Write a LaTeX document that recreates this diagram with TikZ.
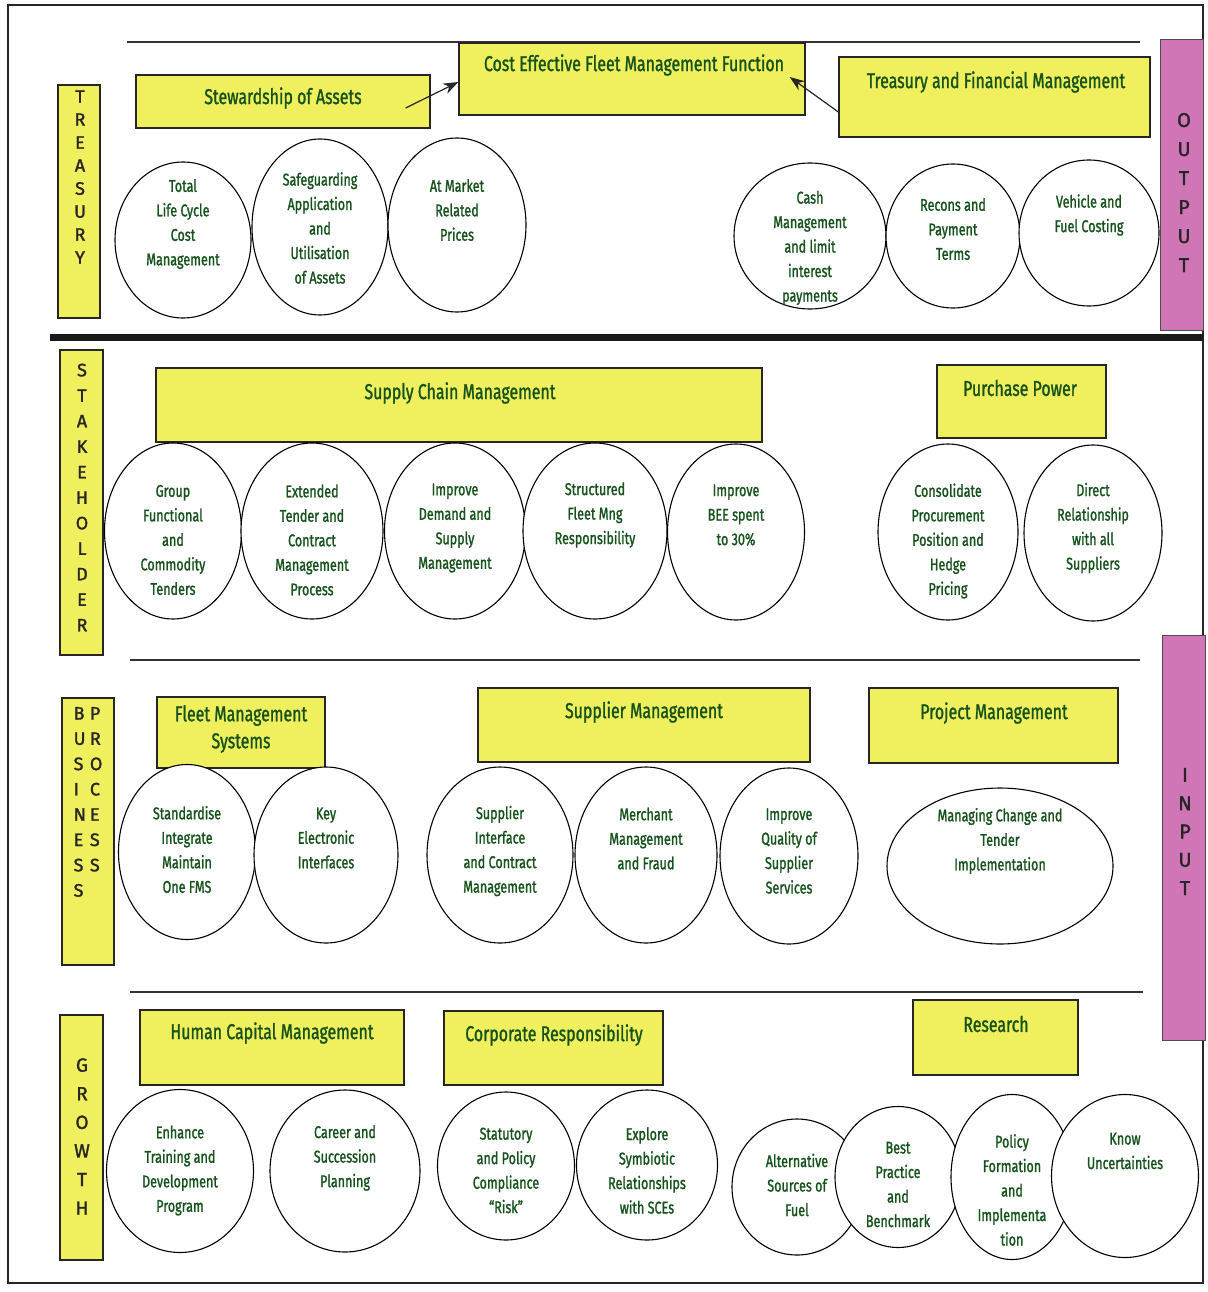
\documentclass[tikz,border=0pt]{standalone}
\usepackage{fontspec}
\setmainfont{Fira Sans}[FakeStretch=0.74, FakeBold=1.2]
\newfontfamily\sidefont{Fira Sans}[FakeBold=1.5]
\usetikzlibrary{shapes.geometric,arrows.meta,calc}
\definecolor{boxyellow}{RGB}{240,240,95}
\definecolor{barpink}{RGB}{208,118,182}
\definecolor{txtgreen}{RGB}{22,82,28}
\tikzset{
  ybox/.style={draw=black!85, line width=1.3pt, fill=boxyellow, inner sep=0pt},
  pbar/.style={draw=black!70, line width=1pt, fill=barpink, inner sep=0pt},
  ttl/.style={text=txtgreen, align=center, inner sep=0pt, font=\fontsize{21.5}{27}\selectfont},
  oval/.style={ellipse, draw=black, line width=1.1pt, fill=white, inner sep=0pt},
  otxt/.style={text=txtgreen, align=center, inner sep=0pt, font=\fontsize{17}{24.5}\selectfont},
  side/.style={text=black!85, align=center, inner sep=0pt, font=\sidefont\fontsize{18}{23}\selectfont},
  arr/.style={-{Stealth[length=15pt,width=11pt]}, line width=1.2pt, draw=black!85, fill=black!85},
  rule/.style={line width=1.1pt, draw=black!80}
}
\begin{document}
\begin{tikzpicture}[x=1pt,y=-1pt]
\useasboundingbox (0,0) rectangle (1207,1292);
% frame and dividing rules
\draw[line width=1.5pt, black!85] (8,5) rectangle (1203,1283);
\draw[rule] (127,42) -- (1140,42);
\draw[line width=7pt, black!90] (50,337) -- (1203,337);
\draw[rule] (130,660) -- (1140,660);
\draw[rule] (130,992) -- (1143,992);

% side bars
\node[ybox, minimum width=42, minimum height=233] (barT) at (79,201.5) {};
\node[side] (barTt) at (80,177) {T\\R\\E\\A\\S\\U\\R\\Y};
\node[ybox, minimum width=43, minimum height=305] (barS) at (81.5,502.5) {};
\node[side, font=\sidefont\fontsize{18}{25.5}\selectfont] (barSt) at (82,497.5) {S\\T\\A\\K\\E\\H\\O\\L\\D\\E\\R};
\node[ybox, minimum width=52, minimum height=267] (barB) at (88,831.5) {};
\node[side] (barBt) at (88,803) {\renewcommand{\arraystretch}{1.1}\begin{tabular}{@{}l@{\hspace{4pt}}l@{}}B&P\\U&R\\S&O\\I&C\\N&E\\E&S\\S&S\\S&\end{tabular}};
\node[ybox, minimum width=43, minimum height=245] (barG) at (81.5,1137.5) {};
\node[side, font=\sidefont\fontsize{19}{28.6}\selectfont] (barGt) at (82,1136.5) {G\\R\\O\\W\\T\\H};
\node[pbar, minimum width=43, minimum height=290] (barO) at (1181.5,185) {};
\node[side, font=\sidefont\fontsize{20}{29}\selectfont] (barOt) at (1184,192.5) {O\\U\\T\\P\\U\\T};
\node[pbar, minimum width=43, minimum height=405] (barI) at (1183.5,837.5) {};
\node[side, font=\sidefont\fontsize{20}{28.3}\selectfont] (barIt) at (1185,831.5) {I\\N\\P\\U\\T};

% treasury perspective
\node[ybox, minimum width=294, minimum height=53] (stew) at (283,101.5) {};
\node[ttl] (stewt) at (283,98) {Stewardship of Assets};
\node[ybox, minimum width=346, minimum height=72] (cost) at (632,79) {};
\node[ttl] (costt) at (634,65) {Cost Effective Fleet Management Function};
\node[ybox, minimum width=311, minimum height=80] (treas) at (994.5,97) {};
\node[ttl] (treast) at (996,82) {Treasury and Financial Management};
\draw[arr] ($(stew.east)+(-25,6.5)$) -- ($(cost.west)+(0,3)$);
\draw[arr] ($(treas.west)+(0,15)$) -- ($(cost.east)+(-16,-2)$);

\node[oval, minimum width=136, minimum height=156] (t1) at (183,240) {};
\node[otxt] (t1t) at (183,224) {Total\\Life Cycle\\Cost\\Management};
\node[oval, minimum width=136, minimum height=176] (t2) at (320,227) {};
\node[otxt] (t2t) at (320,228) {Safeguarding\\Application\\and\\Utilisation\\of Assets};
\node[oval, minimum width=138, minimum height=174] (t3) at (457,225) {};
\node[otxt] (t3t) at (457,210) {At Market\\Related\\Prices};
\node[oval, minimum width=152, minimum height=146] (t4) at (810,236) {};
\node[otxt] (t4t) at (810,248) {Cash\\Management\\and limit\\interest\\payments};
\node[oval, minimum width=134, minimum height=144] (t5) at (953,236) {};
\node[otxt] (t5t) at (953,229) {Recons and\\Payment\\Terms};
\node[oval, minimum width=140, minimum height=146] (t6) at (1089,233) {};
\node[otxt] (t6t) at (1089,215) {Vehicle and\\Fuel Costing};

% stakeholder perspective
\node[ybox, minimum width=606, minimum height=74] (scm) at (459,405) {};
\node[ttl] (scmt) at (460,393) {Supply Chain Management};
\node[ybox, minimum width=169, minimum height=73] (pp) at (1021.5,401.5) {};
\node[ttl] (ppt) at (1020,388) {Purchase Power};

\node[oval, minimum width=137, minimum height=176] (s1) at (173,531) {};
\node[otxt] (s1t) at (173,540) {Group\\Functional\\and\\Commodity\\Tenders};
\node[oval, minimum width=142, minimum height=176] (s2) at (312,531) {};
\node[otxt] (s2t) at (312,540) {Extended\\Tender and\\Contract\\Management\\Process};
\node[oval, minimum width=141, minimum height=176] (s3) at (455,531) {};
\node[otxt] (s3t) at (455,528) {Improve\\Demand and\\Supply\\Management};
\node[oval, minimum width=144, minimum height=176] (s4) at (595,531) {};
\node[otxt] (s4t) at (595,515) {Structured\\Fleet Mng\\Responsibility};
\node[oval, minimum width=137, minimum height=176] (s5) at (736,532) {};
\node[otxt] (s5t) at (736,515) {Improve\\BEE spent\\to 30\%};
\node[oval, minimum width=140, minimum height=176] (s6) at (948,532) {};
\node[otxt] (s6t) at (948,541) {Consolidate\\Procurement\\Position and\\Hedge\\Pricing};
\node[oval, minimum width=138, minimum height=176] (s7) at (1093,533) {};
\node[otxt] (s7t) at (1093,528) {Direct\\Relationship\\with all\\Suppliers};

% business process perspective
\node[ybox, minimum width=168, minimum height=71] (fms) at (241,732.5) {};
\node[ttl] (fmst) at (241,729) {Fleet Management\\Systems};
\node[ybox, minimum width=332, minimum height=74] (sm) at (644,725) {};
\node[ttl] (smt) at (644,712) {Supplier Management};
\node[ybox, minimum width=249, minimum height=75] (pm) at (993.5,725.5) {};
\node[ttl] (pmt) at (994,713) {Project Management};

\node[oval, minimum width=137, minimum height=175] (b1) at (187,852) {};
\node[otxt] (b1t) at (187,849.5) {Standardise\\Integrate\\Maintain\\One FMS};
\node[oval, minimum width=144, minimum height=176] (b2) at (326,855) {};
\node[otxt] (b2t) at (326,838) {Key\\Electronic\\Interfaces};
\node[oval, minimum width=146, minimum height=176] (b3) at (500,855) {};
\node[otxt] (b3t) at (500,851) {Supplier\\Interface\\and Contract\\Management};
\node[oval, minimum width=142, minimum height=176] (b4) at (646,855) {};
\node[otxt] (b4t) at (646,838.5) {Merchant\\Management\\and Fraud};
\node[oval, minimum width=138, minimum height=176] (b5) at (789,856) {};
\node[otxt] (b5t) at (789,851) {Improve\\Quality of\\Supplier\\Services};
\node[oval, minimum width=226, minimum height=156] (b6) at (1000,866) {};
\node[otxt] (b6t) at (1000,841) {Managing Change and\\Tender\\Implementation};

% learning and growth perspective
\node[ybox, minimum width=264, minimum height=75] (hcm) at (272,1047.5) {};
\node[ttl] (hcmt) at (272,1033) {Human Capital Management};
\node[ybox, minimum width=219, minimum height=74] (cr) at (553.5,1048) {};
\node[ttl] (crt) at (554,1035) {Corporate Responsibility};
\node[ybox, minimum width=165, minimum height=75] (res) at (995.5,1037.5) {};
\node[ttl] (rest) at (996,1024) {Research};

\node[oval, minimum width=147, minimum height=163] (g1) at (180,1171) {};
\node[otxt] (g1t) at (180,1170.5) {Enhance\\Training and\\Development\\Program};
\node[oval, minimum width=150, minimum height=162] (g2) at (345,1171) {};
\node[otxt] (g2t) at (345,1158) {Career and\\Succession\\Planning};
\node[oval, minimum width=137, minimum height=148] (g3) at (506,1166) {};
\node[otxt] (g3t) at (506,1170.5) {Statutory\\and Policy\\Compliance\\``Risk''};
\node[oval, minimum width=141, minimum height=150] (g4) at (647,1165) {};
\node[otxt] (g4t) at (647,1170.5) {Explore\\Symbiotic\\Relationships\\with SCEs};
\node[oval, minimum width=130, minimum height=136] (g5) at (797,1187) {};
\node[otxt] (g5t) at (797,1185) {Alternative\\Sources of\\Fuel};
\node[oval, minimum width=126, minimum height=141] (g6) at (898,1177) {};
\node[otxt] (g6t) at (898,1184.5) {Best\\Practice\\and\\Benchmark};
\node[oval, minimum width=122, minimum height=165] (g7) at (1012,1177) {};
\node[otxt] (g7t) at (1012,1190) {Policy\\Formation\\and\\Implementa\\tion};
\node[oval, minimum width=147, minimum height=163] (g8) at (1125,1176) {};
\node[otxt] (g8t) at (1125,1151) {Know\\Uncertainties};
\end{tikzpicture}
\end{document}
